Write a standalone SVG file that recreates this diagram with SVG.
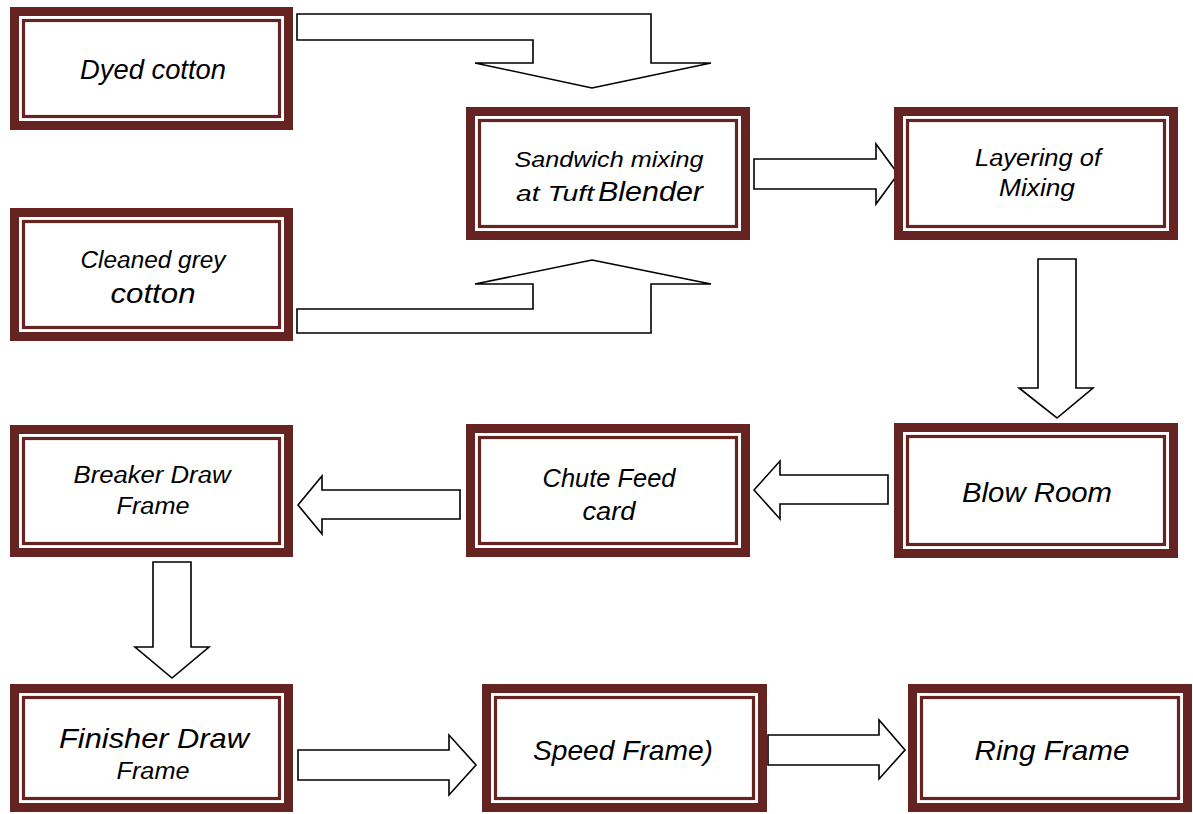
<svg xmlns="http://www.w3.org/2000/svg" width="1193" height="814" viewBox="0 0 1193 814">
  <style>
    .outer { fill: #ffffff; stroke: #652322; stroke-width: 9; }
    .inner { fill: none; stroke: #652322; stroke-width: 3.2; }
    .arrow { fill: #ffffff; stroke: #000000; stroke-width: 1.6; stroke-linejoin: miter; }
    text { font-family: "Liberation Sans", Arial, sans-serif; font-style: italic; fill: #000000; text-anchor: middle; }
    text.start { text-anchor: start; }
  </style>
  <rect width="1193" height="814" fill="#ffffff"/>

  <!-- flow connectors (block arrows) -->
  <g id="connectors">
    <polygon class="arrow" points="297,14 651,14 651,63 711,63 592,88 475,63 533,63 533,40 297,40"/>
    <polygon class="arrow" points="592,260 711,284 651,284 651,333 297,333 297,309 533,309 533,284 475,284"/>
    <polygon class="arrow" points="754,159 876,159 876,144 898,174 876,204 876,189 754,189"/>
    <polygon class="arrow" points="1038,259 1076,259 1076,388 1093,388 1057,418 1019,388 1038,388"/>
    <polygon class="arrow" points="888,475 888,504 780,504 780,519 754,490 780,461 780,475"/>
    <polygon class="arrow" points="460,490 460,519 322,519 322,534 298,505 322,476 322,490"/>
    <polygon class="arrow" points="153,562 191,562 191,647 209,647 172,678 135,647 153,647"/>
    <polygon class="arrow" points="298,750 449,750 449,735 476,765 449,795 449,780 298,780"/>
    <polygon class="arrow" points="768,735 879,735 879,720 905,750 879,779 879,765 768,765"/>
  </g>

  <g id="dyed-cotton">
    <rect class="outer" x="14.5" y="11.5" width="274" height="114"/>
    <rect class="inner" x="23.5" y="20.5" width="256" height="96"/>
    <text x="153" y="79" font-size="27" textLength="146" lengthAdjust="spacingAndGlyphs">Dyed cotton</text>
  </g>

  <g id="cleaned-grey-cotton">
    <rect class="outer" x="14.5" y="212.5" width="274" height="124"/>
    <rect class="inner" x="23.5" y="221.5" width="256" height="106"/>
    <text x="153" y="268" font-size="23" textLength="145" lengthAdjust="spacingAndGlyphs">Cleaned grey</text>
    <text x="153" y="303" font-size="28" textLength="85" lengthAdjust="spacingAndGlyphs">cotton</text>
  </g>

  <g id="sandwich-mixing">
    <rect class="outer" x="470.5" y="111.5" width="275" height="124"/>
    <rect class="inner" x="479.5" y="120.5" width="257" height="106"/>
    <text x="609" y="167" font-size="22" textLength="189" lengthAdjust="spacingAndGlyphs">Sandwich mixing</text>
    <text class="start" x="516" y="201" font-size="22" textLength="78" lengthAdjust="spacingAndGlyphs">at Tuft</text>
    <text class="start" x="598" y="201" font-size="28" textLength="105" lengthAdjust="spacingAndGlyphs">Blender</text>
  </g>

  <g id="layering-of-mixing">
    <rect class="outer" x="898.5" y="111.5" width="275" height="124"/>
    <rect class="inner" x="907.5" y="120.5" width="257" height="106"/>
    <text x="1038" y="166" font-size="23" textLength="126" lengthAdjust="spacingAndGlyphs">Layering of</text>
    <text x="1037" y="196" font-size="23" textLength="76" lengthAdjust="spacingAndGlyphs">Mixing</text>
  </g>

  <g id="blow-room">
    <rect class="outer" x="898.5" y="427.5" width="275" height="126"/>
    <rect class="inner" x="907.5" y="436.5" width="257" height="108"/>
    <text x="1037" y="502" font-size="28" textLength="150" lengthAdjust="spacingAndGlyphs">Blow Room</text>
  </g>

  <g id="chute-feed-card">
    <rect class="outer" x="470.5" y="428.5" width="275" height="124"/>
    <rect class="inner" x="479.5" y="437.5" width="257" height="106"/>
    <text x="609" y="487" font-size="25" textLength="133" lengthAdjust="spacingAndGlyphs">Chute Feed</text>
    <text x="609" y="520" font-size="25" textLength="53" lengthAdjust="spacingAndGlyphs">card</text>
  </g>

  <g id="breaker-draw-frame">
    <rect class="outer" x="14.5" y="429.5" width="274" height="123"/>
    <rect class="inner" x="23.5" y="438.5" width="256" height="105"/>
    <text x="152" y="483" font-size="23" textLength="157" lengthAdjust="spacingAndGlyphs">Breaker Draw</text>
    <text x="153" y="514" font-size="23" textLength="73" lengthAdjust="spacingAndGlyphs">Frame</text>
  </g>

  <g id="finisher-draw-frame">
    <rect class="outer" x="14.5" y="688.5" width="274" height="119"/>
    <rect class="inner" x="23.5" y="697.5" width="256" height="101"/>
    <text x="154" y="748" font-size="28" textLength="190" lengthAdjust="spacingAndGlyphs">Finisher Draw</text>
    <text x="153" y="779" font-size="23" textLength="73" lengthAdjust="spacingAndGlyphs">Frame</text>
  </g>

  <g id="speed-frame">
    <rect class="outer" x="486.5" y="688.5" width="276" height="119"/>
    <rect class="inner" x="495.5" y="697.5" width="258" height="101"/>
    <text x="623" y="760" font-size="28" textLength="180" lengthAdjust="spacingAndGlyphs">Speed Frame)</text>
  </g>

  <g id="ring-frame">
    <rect class="outer" x="912.5" y="688.5" width="275" height="119"/>
    <rect class="inner" x="921.5" y="697.5" width="257" height="101"/>
    <text x="1052" y="760" font-size="28" textLength="155" lengthAdjust="spacingAndGlyphs">Ring Frame</text>
  </g>
</svg>
